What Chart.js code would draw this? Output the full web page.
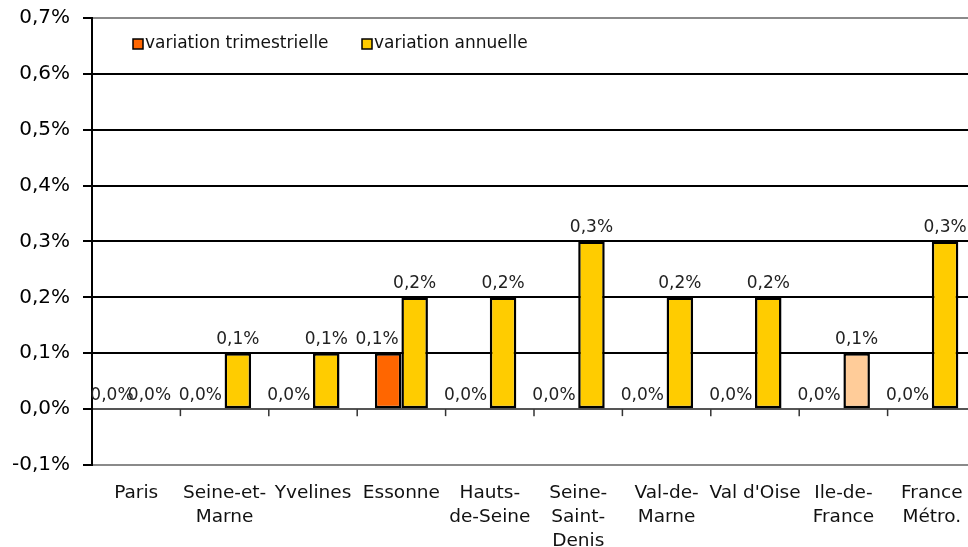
<!DOCTYPE html>
<html>
<head>
<meta charset="utf-8">
<script src="https://cdn.jsdelivr.net/npm/chart.js@4.4.0/dist/chart.umd.min.js"></script>
<style>
  html, body { margin: 0; padding: 0; background: #fff; overflow: hidden; }
  #box { position: relative; width: 976px; height: 547px; }
</style>
</head>
<body>
<div id="box"><canvas id="chart"></canvas></div>
<script>
const categories = [
  ['Paris'], ['Seine-et-', 'Marne'], ['Yvelines'], ['Essonne'], ['Hauts-', 'de-Seine'],
  ['Seine-', 'Saint-', 'Denis'], ['Val-de-', 'Marne'], ["Val d'Oise"], ['Ile-de-', 'France'], ['France', 'Métro.']
];
const trimestrielle = [0.0, 0.0, 0.0, 0.1, 0.0, 0.0, 0.0, 0.0, 0.0, 0.0];
const annuelle = [0.0, 0.1, 0.1, 0.2, 0.2, 0.3, 0.2, 0.2, 0.1, 0.3];
const seriesNames = ['variation trimestrielle', 'variation annuelle'];
const yTicks = [-0.1, 0.0, 0.1, 0.2, 0.3, 0.4, 0.5, 0.6, 0.7];

const FONT = "'DejaVu Sans', sans-serif";
const fmt = v => v.toFixed(1).replace('.', ',') + '%';

// value labels, legend in the plot and the small ticks on the zero line
const extras = {
  id: 'extras',
  afterDatasetsDraw(chart) {
    const ctx = chart.ctx;
    const x = chart.scales.x, y = chart.scales.y;
    const y0 = y.getPixelForValue(0);
    ctx.save();
    ctx.strokeStyle = '#333';
    ctx.lineWidth = 1.5;
    for (let i = 0; i < categories.length - 1; i++) {
      const bx = (x.getPixelForTick(i) + x.getPixelForTick(i + 1)) / 2;
      ctx.beginPath();
      ctx.moveTo(bx, y0);
      ctx.lineTo(bx, y0 + 7);
      ctx.stroke();
    }
    ctx.font = '17px ' + FONT;
    ctx.fillStyle = '#222';
    ctx.textAlign = 'center';
    ctx.textBaseline = 'bottom';
    chart.data.datasets.forEach((ds, di) => {
      const shift = di === 0 ? -11 : 0;
      chart.getDatasetMeta(di).data.forEach((bar, i) => {
        ctx.fillText(fmt(ds.data[i]), bar.x + shift, bar.y - 5);
      });
    });
    // legend
    const top = chart.chartArea.top;
    const items = [{ x: 133, color: '#FF6600' }, { x: 362, color: '#FFCC00' }];
    ctx.font = '17px ' + FONT;
    ctx.textAlign = 'left';
    ctx.textBaseline = 'middle';
    items.forEach((it, k) => {
      ctx.fillStyle = it.color;
      ctx.fillRect(it.x, top + 21, 10, 10);
      ctx.strokeStyle = '#000';
      ctx.lineWidth = 1.5;
      ctx.strokeRect(it.x, top + 21, 10, 10);
      ctx.fillStyle = '#111';
      ctx.fillText(seriesNames[k], it.x + 12, top + 26);
    });
    ctx.restore();
  }
};

new Chart(document.getElementById('chart'), {
  type: 'bar',
  data: {
    labels: categories,
    datasets: [
      {
        label: seriesNames[0],
        data: trimestrielle,
        backgroundColor: '#FF6600',
        borderColor: '#000',
        borderWidth: c => (c.raw === 0 ? 0 : 2.5),
        borderSkipped: false
      },
      {
        label: seriesNames[1],
        data: annuelle,
        backgroundColor: c => (c.dataIndex === 8 ? '#FFCC99' : '#FFCC00'),
        borderColor: '#000',
        borderWidth: c => (c.raw === 0 ? 0 : 2.5),
        borderSkipped: false
      }
    ]
  },
  options: {
    responsive: true,
    maintainAspectRatio: false,
    animation: false,
    categoryPercentage: 0.6,
    barPercentage: 1.0,
    layout: { padding: { top: 18, right: 0, left: 0, bottom: 0 } },
    plugins: {
      legend: { display: false },
      tooltip: { enabled: false }
    },
    scales: {
      x: {
        grid: { display: false },
        border: { display: false },
        ticks: {
          color: '#111',
          font: { family: FONT, size: 18.5, lineHeight: 1.3 },
          maxRotation: 0,
          autoSkip: false,
          padding: 8
        },
        afterFit: s => { s.height = 82; s.paddingLeft = 0; s.paddingRight = 0; }
      },
      y: {
        min: -0.1,
        max: 0.7,
        afterBuildTicks: s => { s.ticks = yTicks.map(v => ({ value: v })); },
        grid: {
          color: c => {
            const v = Math.round(c.tick.value * 10);
            if (v === 7 || v === -1) return '#8a8a8a';
            if (v === 0) return '#555';
            return '#000';
          },
          lineWidth: 2,
          tickLength: 9,
          tickColor: '#000'
        },
        border: { color: '#000', width: 2 },
        ticks: {
          color: '#000',
          font: { family: FONT, size: 20 },
          padding: 13,
          callback: v => fmt(v)
        },
        afterFit: s => { s.width = 92; s.paddingTop = 0; s.paddingBottom = 0; }
      }
    }
  },
  plugins: [extras]
});
</script>
</body>
</html>
